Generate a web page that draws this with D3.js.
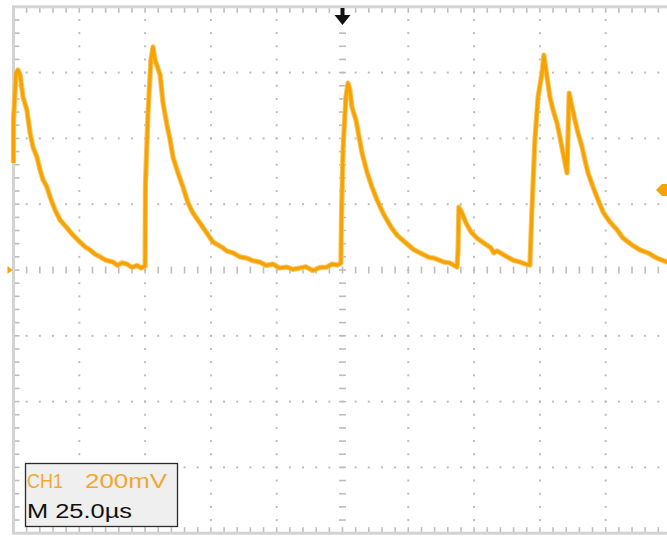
<!DOCTYPE html>
<html lang="en">
<head>
    <meta charset="UTF-8">
    <script src="https://d3js.org/d3.v7.min.js"></script>
    <style>
        body { margin: 0; background: #fff; }
        svg { display: block; }
        .scope-text { font-family: "Liberation Sans", Arial, sans-serif; font-size: 20px; }
    </style>
</head>
<body>
    <div id="chart"></div>

    <script>
        // screen settings read from the scope readout
        const timePerDiv = 25;     // us
        const voltsPerDiv = 200;   // mV
        const triggerTime = 125;   // us (centre of screen)
        const triggerLevel = 243;  // mV

        // CH1 trace: time in us, voltage in mV
        const timeUs = [
            0, 0, 0.95, 1.7, 2.5, 3.6, 5.1, 6.3, 7.4, 8.9, 10.1, 11.2, 12.7, 13.9, 15.8, 17.7, 20.3, 22.6, 25.3,
            27.2, 29.1, 31.0, 32.9, 35.0, 37.8, 39.5, 41.2, 43.1, 45.0, 46.9, 48.5, 50.0,
            50.1, 51.1, 52.2, 53.0, 53.8, 55.7, 56.8, 58.3, 59.5, 60.6, 62.5, 64.4, 66.3, 68.2, 70.8,
            73.5, 75.8, 79.6, 81.0, 83.4, 86.0, 88.7, 91.0, 93.6, 96.0, 98.6, 101.0, 103.9, 106.0, 108.8,
            111.0, 113.8, 116.5, 119.1, 121.0, 122.9, 124.4,
            124.6, 125.2, 126.3, 127.1, 127.8, 128.6, 130.1, 131.3, 132.4, 134.3, 136.2, 138.1, 140.8,
            143.4, 145.7, 149.1, 152.2, 156.0, 158.0, 159.8, 163.6, 165.5, 167.3, 168.5,
            168.9, 169.2, 170.4, 171.9, 173.8, 176.1, 178.7, 181.4, 182.5, 183.7, 187.5, 189.8, 192.4, 194.5, 196.2,
            197.0, 198.1, 199.3, 200.8, 201.5, 202.7, 203.8, 205.0, 206.5, 207.6, 208.8, 210.3,
            211.1, 212.2, 213.3, 214.5, 216.0, 217.1, 218.3, 220.2, 222.1, 224.0, 226.6, 229.3, 231.6,
            235.0, 238.0, 241.1, 244.5, 248.3, 251.0
        ];
        const ch1mV = [
            325, 456, 599, 608, 593, 526, 486, 416, 374, 343, 304, 274, 252, 222, 182, 152, 128, 106, 85,
            70, 61, 48, 40, 30, 24, 14, 22, 18, 8, 14, 6, 12,
            252, 477, 638, 678, 638, 593, 508, 441, 395, 343, 295, 252, 204, 173, 143,
            112, 85, 67, 58, 52, 40, 36, 28, 24, 14, 18, 6, 9, 2, 6,
            10, -2, 8, 9, 18, 15, 21,
            161, 365, 526, 568, 547, 495, 456, 404, 356, 298, 252, 213, 167,
            131, 106, 82, 61, 46, 38, 36, 24, 22, 15, 9,
            61, 191, 173, 143, 116, 97, 82, 67, 52, 58, 40, 30, 24, 18, 15,
            191, 395, 526, 599, 653, 587, 526, 486, 447, 404, 356, 295,
            538, 495, 456, 416, 374, 334, 295, 252, 213, 176, 146, 122, 97,
            76, 61, 52, 36, 24, 18
        ];
        const trace = timeUs.map((t, i) => ({t: t, v: ch1mV[i]}));

        const readoutCh = "CH1";
        const readoutVolts = "200mV";
        const readoutTime = "M 25.0\u00b5s";

        const W = 667, H = 536;
        const plot = {left: 13.5, top: 6.8, div: 65.8};
        const nx = 10, ny = 8;

        const x = d3.scaleLinear()
            .domain([0, nx * timePerDiv])
            .range([plot.left, plot.left + nx * plot.div]);
        const y = d3.scaleLinear()
            .domain([-ny / 2 * voltsPerDiv, ny / 2 * voltsPerDiv])
            .range([plot.top + ny * plot.div, plot.top]);

        const svg = d3.select("#chart")
            .append("svg")
            .attr("width", W)
            .attr("height", H);

        const gridCol = "#bdbdbd";
        const minorT = d3.range(0, nx * timePerDiv + 0.01, timePerDiv / 5);
        const minorV = d3.range(-ny / 2 * voltsPerDiv, ny / 2 * voltsPerDiv + 0.01, voltsPerDiv / 5);

        // dotted graticule lines
        const g = svg.append("g");
        const vLines = d3.range(1, nx).map(i => i * timePerDiv).filter(t => t !== nx / 2 * timePerDiv);
        const hLines = d3.range(1, ny).map(i => (i - ny / 2) * voltsPerDiv).filter(v => v !== 0);

        vLines.forEach(t => {
            g.selectAll(null).data(minorV.slice(1, -1)).enter().append("rect")
                .attr("x", x(t) - 1).attr("y", d => y(d) - 1)
                .attr("width", 2).attr("height", 2).attr("fill", gridCol);
        });
        hLines.forEach(v => {
            g.selectAll(null).data(minorT.slice(1, -1)).enter().append("rect")
                .attr("x", d => x(d) - 1).attr("y", y(v) - 1)
                .attr("width", 2).attr("height", 2).attr("fill", gridCol);
        });

        // centre lines with tick marks
        g.selectAll(null).data(minorT.slice(1, -1)).enter().append("line")
            .attr("x1", d => x(d)).attr("x2", d => x(d))
            .attr("y1", y(0) - 3.5).attr("y2", y(0) + 3.5)
            .attr("stroke", gridCol).attr("stroke-width", 1.6);
        g.selectAll(null).data(minorV.slice(1, -1)).enter().append("line")
            .attr("x1", x(triggerTime) - 3.5).attr("x2", x(triggerTime) + 3.5)
            .attr("y1", d => y(d)).attr("y2", d => y(d))
            .attr("stroke", gridCol).attr("stroke-width", 1.6);

        // ticks along the border
        g.selectAll(null).data(minorT.slice(1, -1)).enter().append("line")
            .attr("x1", d => x(d)).attr("x2", d => x(d))
            .attr("y1", y.range()[1]).attr("y2", y.range()[1] + 6)
            .attr("stroke", gridCol).attr("stroke-width", 1.6);
        g.selectAll(null).data(minorT.slice(1, -1)).enter().append("line")
            .attr("x1", d => x(d)).attr("x2", d => x(d))
            .attr("y1", y.range()[0] - 6).attr("y2", y.range()[0])
            .attr("stroke", gridCol).attr("stroke-width", 1.6);
        g.selectAll(null).data(minorV.slice(1, -1)).enter().append("line")
            .attr("x1", x.range()[0]).attr("x2", x.range()[0] + 6)
            .attr("y1", d => y(d)).attr("y2", d => y(d))
            .attr("stroke", gridCol).attr("stroke-width", 1.6);

        // outer frame
        svg.append("rect")
            .attr("x", x.range()[0]).attr("y", y.range()[1])
            .attr("width", x.range()[1] - x.range()[0])
            .attr("height", y.range()[0] - y.range()[1])
            .attr("fill", "none")
            .attr("stroke", "#d3d3d3")
            .attr("stroke-width", 3);

        // waveform
        const line = d3.line()
            .x(d => x(d.t))
            .y(d => y(d.v));

        svg.append("path")
            .datum(trace)
            .attr("d", line)
            .attr("fill", "none")
            .attr("stroke", "#f9c35c")
            .attr("stroke-width", 5.2)
            .attr("stroke-linejoin", "round");
        svg.append("path")
            .datum(trace)
            .attr("d", line)
            .attr("fill", "none")
            .attr("stroke", "#f6a200")
            .attr("stroke-width", 3.2)
            .attr("stroke-linejoin", "round");

        // ground marker (left), trigger level marker (right), trigger position (top)
        const gx = x.range()[0], gy = y(0);
        svg.append("path")
            .attr("d", `M${gx - 6},${gy - 4}L${gx - 1},${gy}L${gx - 6},${gy + 4}Z`)
            .attr("fill", "#f6a200");
        const ty = y(triggerLevel);
        svg.append("path")
            .attr("d", `M656,${ty}L662,${ty - 6}L668,${ty - 6}L668,${ty + 6}L662,${ty + 6}Z`)
            .attr("fill", "#f6a200");
        const ax = x(triggerTime);
        svg.append("rect")
            .attr("x", ax - 2).attr("y", 8).attr("width", 4).attr("height", 9)
            .attr("fill", "#111");
        svg.append("path")
            .attr("d", `M${ax - 8},15L${ax + 8},15L${ax},25Z`)
            .attr("fill", "#111");

        // readout box
        svg.append("rect")
            .attr("x", 25.5).attr("y", 463.5).attr("width", 152).attr("height", 63)
            .attr("fill", "#efefef")
            .attr("stroke", "#2b2b2b")
            .attr("stroke-width", 1.3);
        svg.append("text").attr("class", "scope-text")
            .attr("x", 27).attr("y", 488)
            .attr("fill", "#f0a832")
            .attr("textLength", 36).attr("lengthAdjust", "spacingAndGlyphs")
            .text(readoutCh);
        svg.append("text").attr("class", "scope-text")
            .attr("x", 85).attr("y", 488)
            .attr("fill", "#f0a832")
            .attr("textLength", 82).attr("lengthAdjust", "spacingAndGlyphs")
            .text(readoutVolts);
        svg.append("text").attr("class", "scope-text")
            .attr("x", 27).attr("y", 518)
            .attr("fill", "#111")
            .attr("textLength", 105).attr("lengthAdjust", "spacingAndGlyphs")
            .text(readoutTime);
    </script>
</body>
</html>
